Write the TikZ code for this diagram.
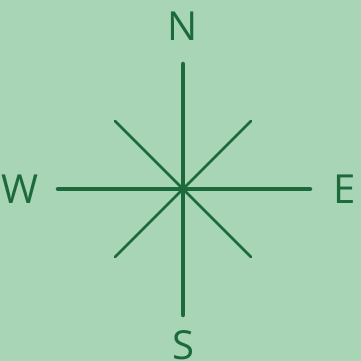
\documentclass[tikz,border=0pt]{standalone}
\usepackage{fontspec}
\setmainfont{Open Sans}
\usepackage{tikz}
\usetikzlibrary{positioning}

\definecolor{bgmint}{RGB}{168,213,181}
\definecolor{rosegreen}{RGB}{28,106,60}

\begin{document}
\begin{tikzpicture}[x=1pt, y=1pt,
  axis/.style={draw=rosegreen, line width=4.5pt, line cap=round},
  diag/.style={draw=rosegreen, line width=2.5pt, line cap=round},
  dirlabel/.style={text=rosegreen, font=\fontsize{40}{40}\selectfont, inner sep=0pt}
]
\fill[bgmint] (-183,-172) rectangle (178,189);
\useasboundingbox (-183,-172) rectangle (178,189);

\coordinate (c) at (0,0);
\coordinate (tn) at (0,125);
\coordinate (ts) at (0,-126);
\coordinate (tw) at (-125,0);
\coordinate (te) at (127,0);
\coordinate (dne) at (68,68);
\coordinate (dsw) at (-68,-68);
\coordinate (dnw) at (-68,68);
\coordinate (dse) at (68,-68);

\draw[diag] (dnw) -- (dse);
\draw[diag] (dne) -- (dsw);
\draw[axis] (tn) -- (ts);
\draw[axis] (tw) -- (te);
\fill[rosegreen] (c) circle (4);

\node[dirlabel] (n) at (0,163) {N};
\node[dirlabel] (s) at (0,-156) {S};
\node[dirlabel] (w) at (-163,0) {W};
\node[dirlabel] (e) at (162,0) {E};
\end{tikzpicture}
\end{document}
